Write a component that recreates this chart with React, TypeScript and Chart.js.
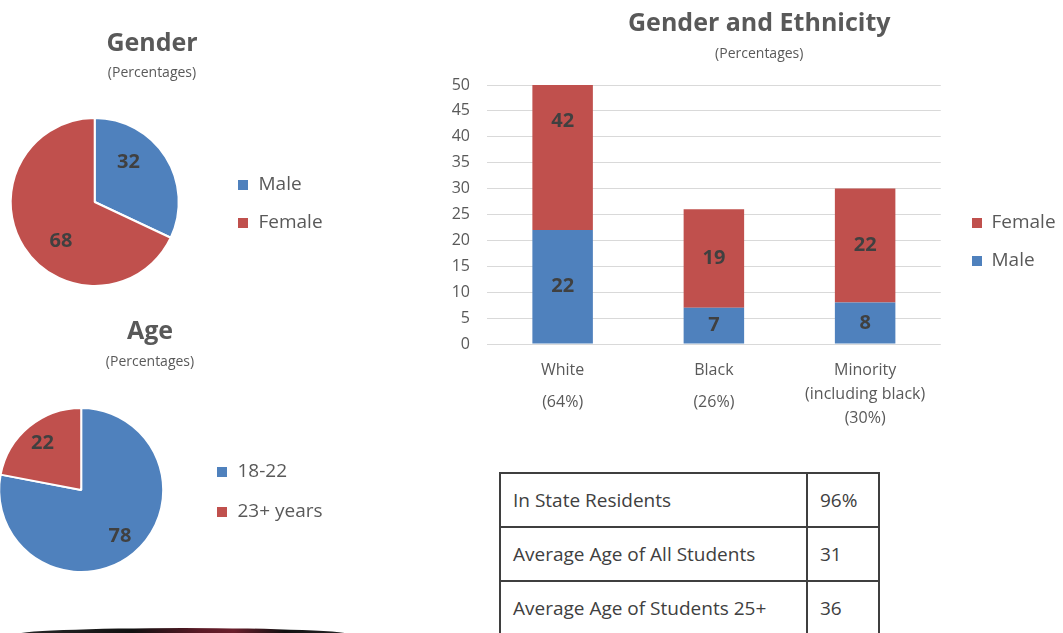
import React, { useEffect, useRef } from 'react';
import { Chart, registerables } from 'chart.js';

Chart.register(...registerables);
Chart.defaults.font.family = "'Open Sans', 'DejaVu Sans', sans-serif";
Chart.defaults.color = '#595959';

// ---------- data ----------
const genderLabels = ['Male', 'Female'];
const genderValues = [32, 68];

const ageLabels = ['18-22', '23+ years'];
const ageValues = [78, 22];

// x tick labels (multi-line; empty strings are line spacers)
const ethnicityTicks = [
  ['White', '', '', '', '(64%)'],
  ['Black', '', '', '', '(26%)'],
  ['Minority', '', '', '(including black)', '', '', '(30%)'],
];
const maleValues = [22, 7, 8];
const femaleValues = [42, 19, 22];
const yMin = 0;
const yMax = 50;
const yStep = 5;

const tableRows = [
  ['In State Residents', '96%'],
  ['Average Age of All Students', '31'],
  ['Average Age of Students 25+', '36'],
];

const BLUE = '#4F81BD';
const RED = '#C0504D';
const GREY = '#595959';
const LABEL = '#404040';

// ---------- plugins ----------
const legendPlace = {
  id: 'legendPlace',
  afterLayout(chart: any, _args: any, opts: any) {
    const lg = chart.legend;
    if (!lg || !opts || opts.x == null) return;
    const pad = lg.options.labels.padding;
    const w = lg.width;
    lg.left = opts.x - pad;
    lg.right = lg.left + w;
    const cy = (lg.top + lg.bottom) / 2;
    const dy = opts.cy - cy;
    lg.top += dy;
    lg.bottom += dy;
  },
};

const valueLabels = {
  id: 'valueLabels',
  afterDatasetsDraw(chart: any, _args: any, opts: any) {
    const ctx = chart.ctx;
    ctx.save();
    ctx.font = `bold ${opts.size || 20}px 'Open Sans', sans-serif`;
    ctx.fillStyle = opts.color || LABEL;
    ctx.textAlign = 'center';
    ctx.textBaseline = 'middle';
    chart.data.datasets.forEach((ds: any, di: number) => {
      const meta = chart.getDatasetMeta(di);
      meta.data.forEach((el: any, i: number) => {
        const v = ds.data[i];
        let x: number;
        let y: number;
        if (meta.type === 'pie') {
          const p = el.getProps(['x', 'y', 'startAngle', 'endAngle', 'outerRadius'], true);
          const a = (p.startAngle + p.endAngle) / 2 + (opts.angleShift || 0);
          const r = p.outerRadius * (opts.radius || 0.65);
          x = p.x + Math.cos(a) * r;
          y = p.y + Math.sin(a) * r;
        } else {
          const p = el.getProps(['x', 'y', 'base'], true);
          x = p.x;
          y = (p.y + p.base) / 2;
        }
        ctx.fillText(String(v), x, y);
      });
    });
    ctx.restore();
  },
};

// ---------- configs ----------
function pieConfig(
  title: string,
  labels: string[],
  values: number[],
  titleTop: number,
  subTop: number,
  subBottom: number,
  padBottom: number,
  legendX: number,
  legendCy: number,
  legendGap: number,
  labelRadius: number,
  angleShift: number
): any {
  return {
    type: 'pie',
    data: {
      labels,
      datasets: [
        {
          data: values,
          backgroundColor: [BLUE, RED],
          borderColor: '#ffffff',
          borderWidth: 2,
        },
      ],
    },
    options: {
      animation: false,
      responsive: false,
      events: [],
      layout: { padding: { left: 0, right: 0, top: 0, bottom: padBottom } },
      plugins: {
        title: {
          display: true,
          text: title,
          color: GREY,
          font: { size: 25, weight: 'bold', lineHeight: 1.2 },
          padding: { top: titleTop, bottom: 0 },
        },
        subtitle: {
          display: true,
          text: '(Percentages)',
          color: GREY,
          font: { size: 14, lineHeight: 1.2 },
          padding: { top: subTop, bottom: subBottom },
        },
        legend: {
          position: 'right',
          fullSize: false,
          labels: {
            boxWidth: 12,
            boxHeight: 12,
            padding: legendGap,
            color: GREY,
            font: { size: 19 },
          },
        },
        tooltip: { enabled: false },
        legendPlace: { x: legendX, cy: legendCy },
        valueLabels: { size: 20, color: LABEL, radius: labelRadius, angleShift },
      },
    },
    plugins: [legendPlace, valueLabels],
  };
}

function barConfig(): any {
  return {
    type: 'bar',
    data: {
      labels: ethnicityTicks,
      datasets: [
        { label: 'Male', data: maleValues, backgroundColor: BLUE, borderWidth: 0, clip: 0 },
        { label: 'Female', data: femaleValues, backgroundColor: RED, borderWidth: 0, clip: 0 },
      ],
    },
    options: {
      animation: false,
      responsive: false,
      events: [],
      layout: { padding: { left: 11, right: 2.5, top: 0, bottom: 18 } },
      datasets: { bar: { categoryPercentage: 0.8, barPercentage: 0.5 } },
      scales: {
        x: {
          stacked: true,
          grid: { display: false, drawTicks: false },
          border: { display: false },
          ticks: {
            padding: 22,
            maxRotation: 0,
            autoSkip: false,
            color: GREY,
            font: { size: 16, lineHeight: '8px' },
          },
        },
        y: {
          stacked: true,
          min: yMin,
          max: yMax,
          grid: { color: '#D9D9D9', drawTicks: false, lineWidth: 1 },
          border: { display: false },
          ticks: { stepSize: yStep, padding: 17, color: GREY, font: { size: 16 } },
          afterFit: (s: any) => {
            s.width = 36;
          },
        },
        spacer: {
          type: 'linear',
          position: 'right',
          display: true,
          grid: { display: false, drawTicks: false },
          border: { display: false },
          ticks: { display: false },
          afterFit: (s: any) => {
            s.width = 24;
          },
        },
      },
      plugins: {
        title: {
          display: true,
          text: 'Gender and Ethnicity',
          color: GREY,
          font: { size: 25, weight: 'bold', lineHeight: 1.2 },
          padding: { top: 9, bottom: 0 },
        },
        subtitle: {
          display: true,
          text: '(Percentages)',
          color: GREY,
          font: { size: 14, lineHeight: 1.2 },
          padding: { top: 6.6, bottom: 22.6 },
        },
        legend: {
          position: 'right',
          fullSize: false,
          reverse: true,
          labels: {
            boxWidth: 10,
            boxHeight: 10,
            padding: 19,
            color: GREY,
            font: { size: 19 },
          },
        },
        tooltip: { enabled: false },
        legendPlace: { x: 532, cy: 242 },
        valueLabels: { size: 20, color: LABEL },
      },
    },
    plugins: [legendPlace, valueLabels],
  };
}

function ChartBox(props: { make: () => any; left: number; top: number; width: number; height: number }) {
  const ref = useRef<HTMLCanvasElement>(null);
  useEffect(() => {
    const chart = new Chart(ref.current as HTMLCanvasElement, props.make());
    return () => chart.destroy();
  }, []);
  return (
    <canvas
      ref={ref}
      width={props.width}
      height={props.height}
      style={{
        position: 'absolute',
        left: props.left,
        top: props.top,
        width: props.width,
        height: props.height,
      }}
    />
  );
}

export default function App() {
  const cell: React.CSSProperties = {
    border: '2px solid #3f3f3f',
    height: 50,
    paddingLeft: 12,
    verticalAlign: 'middle',
    whiteSpace: 'nowrap',
  };
  return (
    <div
      style={{
        position: 'fixed',
        left: 0,
        top: 0,
        width: 1063,
        height: 633,
        overflow: 'hidden',
        background: '#ffffff',
        fontFamily: "'Open Sans', sans-serif",
      }}
    >
      <ChartBox
        left={-30}
        top={0}
        width={364}
        height={300}
        make={() =>
          pieConfig('Gender', genderLabels, genderValues, 29, 5.6, 35.6, 13, 267, 204, 19, 0.62, -0.3)
        }
      />
      <ChartBox
        left={-30}
        top={290}
        width={360}
        height={300}
        make={() =>
          pieConfig('Age', ageLabels, ageValues, 27, 6.6, 36.6, 17, 246, 202, 21, 0.74, 0)
        }
      />
      <ChartBox left={440} top={0} width={630} height={462} make={barConfig} />
      <table
        style={{
          position: 'absolute',
          left: 499,
          top: 472,
          width: 379,
          borderCollapse: 'collapse',
          tableLayout: 'fixed',
          fontSize: 19,
          color: LABEL,
        }}
      >
        <colgroup>
          <col style={{ width: 307 }} />
          <col style={{ width: 72 }} />
        </colgroup>
        <tbody>
          {tableRows.map((r) => (
            <tr key={r[0]}>
              <td style={cell}>{r[0]}</td>
              <td style={cell}>{r[1]}</td>
            </tr>
          ))}
        </tbody>
      </table>
      <div
        style={{
          position: 'absolute',
          left: 14,
          top: 628,
          width: 338,
          height: 14,
          borderRadius: '50%',
          background:
            'linear-gradient(to right, #2a2a2a 0%, #111 35%, #5a1a26 55%, #6a1f2c 65%, #111 80%, #2a2a2a 100%)',
          filter: 'blur(0.7px)',
        }}
      />
    </div>
  );
}
